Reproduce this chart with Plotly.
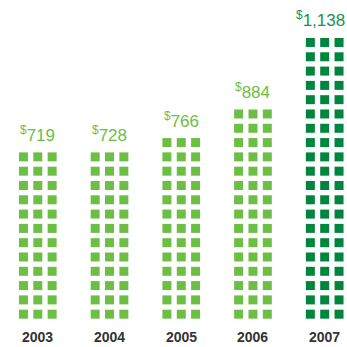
import plotly.graph_objects as go

years = ["2003", "2004", "2005", "2006", "2007"]
values = [719, 728, 766, 884, 1138]
value_labels = ["719", "728", "766", "884", "1,138"]
rows = [12, 12, 13, 15, 20]
colors = ["#6dbe45", "#6dbe45", "#6dbe45", "#6dbe45", "#00853f"]
label_colors = ["#6dbe45", "#6dbe45", "#6dbe45", "#6dbe45", "#13944c"]

COLS = 3
DX = 0.2  # horizontal pitch within a column (x units)

fig = go.Figure()
for i, (n, c) in enumerate(zip(rows, colors)):
    xs, ys = [], []
    for r in range(n):
        for k in range(COLS):
            xs.append(i + (k - 1) * DX)
            ys.append(r)
    fig.add_trace(go.Scatter(
        x=xs, y=ys, mode="markers",
        marker=dict(symbol="square", size=9, color=c, line=dict(width=0)),
        hoverinfo="skip", showlegend=False))
    fig.add_annotation(
        x=i, y=n - 1, xref="x", yref="y",
        text="<sup>$</sup>" + value_labels[i],
        showarrow=False, yanchor="bottom", yshift=10,
        xshift=-4 if i == len(rows) - 1 else 0,
        font=dict(family="Liberation Sans, Arial, sans-serif", size=17, color=label_colors[i]))
    fig.add_annotation(
        x=i, y=-1.6, xref="x", yref="y",
        text="<b>" + years[i] + "</b>",
        showarrow=False, yanchor="middle",
        font=dict(family="Liberation Sans, Arial, sans-serif", size=14, color="#333333"))

fig.update_layout(
    width=347, height=347,
    margin=dict(l=0, r=0, t=0, b=0),
    paper_bgcolor="white", plot_bgcolor="white",
    xaxis=dict(range=[-0.527, 4.311], visible=False, fixedrange=True),
    yaxis=dict(range=[-2.294, 21.97], visible=False, fixedrange=True),
)
fig.write_html("out.html", config={"displayModeBar": False},
               post_script="document.body.style.margin='0';document.body.style.overflow='hidden';")
